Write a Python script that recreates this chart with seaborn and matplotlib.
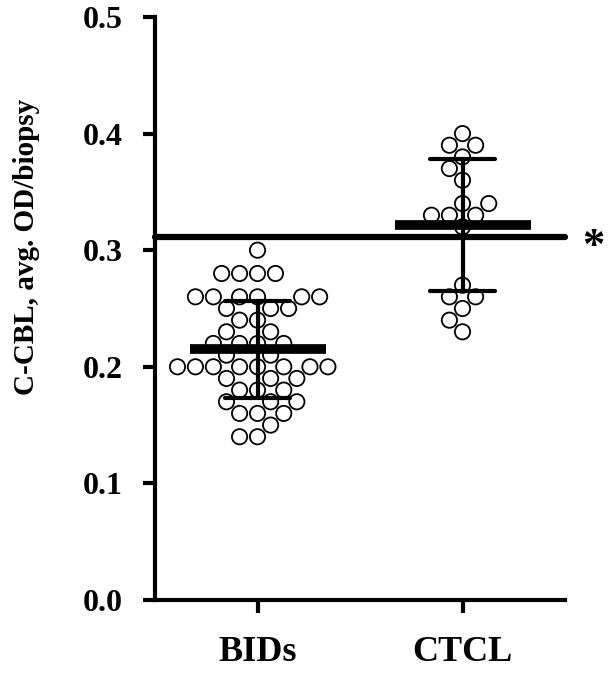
import pandas as pd
import matplotlib
matplotlib.use("Agg")
import matplotlib.pyplot as plt
import matplotlib.transforms as mtransforms
import seaborn as sns

# values (avg OD per biopsy)
bids_values = [0.30,
               0.28, 0.28, 0.28, 0.28,
               0.26, 0.26, 0.26, 0.26, 0.26, 0.26,
               0.25, 0.25, 0.25,
               0.24, 0.24,
               0.23, 0.23,
               0.22, 0.22, 0.22, 0.22,
               0.21, 0.21,
               0.20, 0.20, 0.20, 0.20, 0.20, 0.20, 0.20, 0.20,
               0.19, 0.19, 0.19,
               0.18, 0.18, 0.18,
               0.17, 0.17, 0.17,
               0.16, 0.16, 0.16,
               0.15,
               0.14, 0.14]
ctcl_values = [0.40, 0.39, 0.39, 0.38, 0.37, 0.36, 0.34, 0.34,
               0.33, 0.33, 0.33, 0.32, 0.27, 0.26, 0.26, 0.25,
               0.24, 0.23]
groups = ["BIDs", "CTCL"]
cutoff = 0.311
y_ticks = [0.0, 0.1, 0.2, 0.3, 0.4, 0.5]
y_label = "C-CBL, avg. OD/biopsy"

df = pd.DataFrame({
    "group": ["BIDs"] * len(bids_values) + ["CTCL"] * len(ctcl_values),
    "value": bids_values + ctcl_values,
})

sns.set_style("ticks", {"axes.edgecolor": "black", "text.color": "black",
                        "axes.labelcolor": "black", "xtick.color": "black",
                        "ytick.color": "black"})
plt.rcParams["font.family"] = ["Liberation Serif", "DejaVu Serif"]
plt.rcParams["font.weight"] = "bold"

fig = plt.figure(figsize=(6.13, 6.74), dpi=100)
ax = fig.add_axes([0.2529, 0.1098, 0.6688, 0.865])

# open circles
sns.swarmplot(data=df, x="group", y="value", order=groups, size=11,
              color="white", edgecolor="black", linewidth=1.3, ax=ax,
              zorder=2)
for coll in ax.collections:
    coll.set_facecolor("none")

# mean bar + SD error bars
sns.pointplot(data=df, x="group", y="value", order=groups,
              estimator="mean", errorbar="sd", capsize=0.32,
              color="black", linestyle="none", marker="_",
              markersize=98, markeredgewidth=7,
              err_kws={"linewidth": 3, "color": "black"},
              ax=ax, zorder=3)

# cut-off line with significance star
ax.axhline(cutoff, color="black", linewidth=4.5, zorder=4, clip_on=False)
star_tr = mtransforms.offset_copy(ax.transData, fig=fig, x=0, y=-7,
                                  units="points")
ax.text(1.64, cutoff, "*", fontsize=32, fontweight="bold", color="black",
        ha="center", va="center", transform=star_tr, clip_on=False)

ax.set_xlim(-0.5, 1.5)
ax.set_ylim(0, 0.5)
ax.set_yticks(y_ticks)
ax.set_yticklabels([f"{t:.1f}" for t in y_ticks])
ax.set_xlabel("")
ax.set_ylabel(y_label, fontsize=21, fontweight="bold", color="black")
ax.yaxis.set_label_coords(-0.28, 0.605)

for side in ["top", "right"]:
    ax.spines[side].set_visible(False)
for side in ["left", "bottom"]:
    ax.spines[side].set_linewidth(3)
    ax.spines[side].set_color("black")
ax.tick_params(axis="both", width=3, length=9, direction="out",
               color="black", labelcolor="black")
ax.tick_params(axis="y", labelsize=23, pad=14)
ax.tick_params(axis="x", labelsize=26, pad=17)
for lab in ax.get_xticklabels() + ax.get_yticklabels():
    lab.set_fontweight("bold")

fig.savefig("out.png", dpi=100)
